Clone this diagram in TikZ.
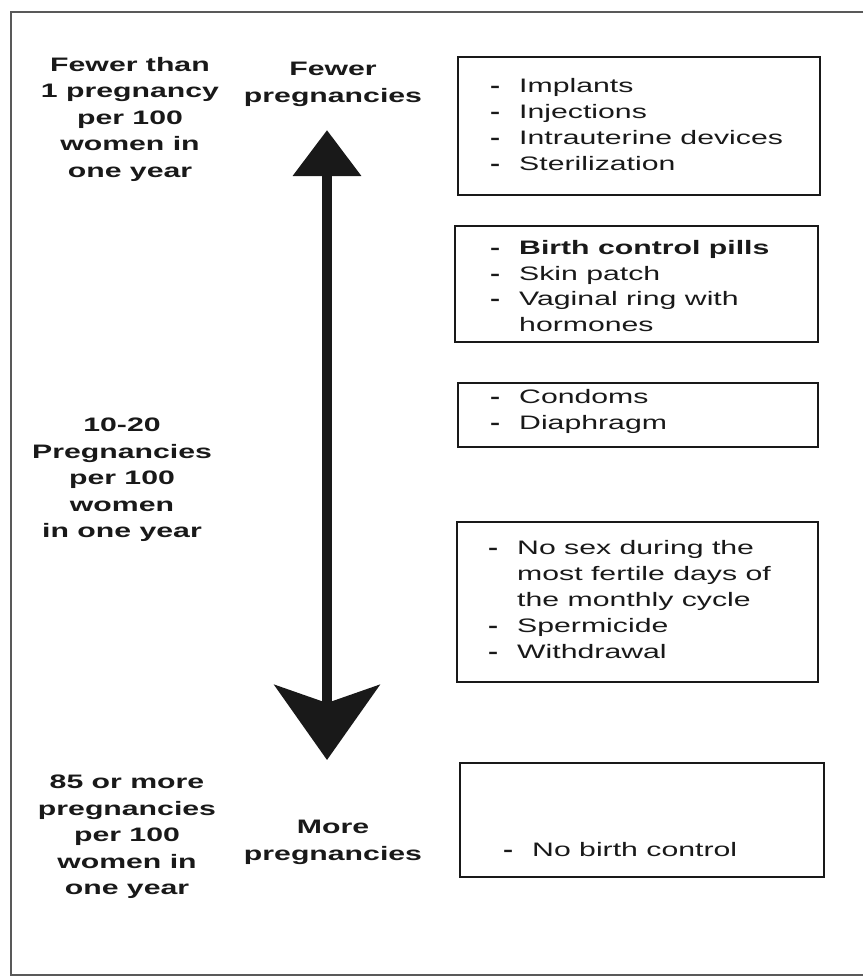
\documentclass[tikz,border=0pt]{standalone}
\usepackage{fontspec}
\newfontfamily\diagfont[FakeStretch=1.55]{Liberation Sans}
\usetikzlibrary{arrows.meta}

\newcommand{\itm}[1]{\makebox[29pt][l]{\bfseries -}#1}
\newcommand{\cnt}[1]{\hspace*{29pt}#1}

\begin{document}
\begin{tikzpicture}[x=1pt,y=-1pt,
                    text=black!90,
                    rate label/.style={align=center,inner sep=0pt,font=\diagfont\bfseries\fontsize{19.5}{26.5}\selectfont},
                    end label/.style={align=center,inner sep=0pt,font=\diagfont\bfseries\fontsize{19.5}{27}\selectfont},
                    method box/.style={draw=black!90,line width=2.8pt,inner sep=0pt},
                    method list/.style={anchor=west,align=left,inner sep=0pt,font=\diagfont\fontsize{19.5}{25.8}\selectfont}]
  \useasboundingbox (0,0) rectangle (863,977);
  % outer frame, open on the right
  \draw[black!65,line width=2.6pt] (863,12) -- (11,12) -- (11,975) -- (863,975);

  % rates on the left
  \node[rate label] (rate1) at (130,119) {Fewer than\\1 pregnancy\\per 100\\women in\\one year};
  \node[rate label] (rate2) at (122,480) {10-20\\Pregnancies\\per 100\\women\\in one year};
  \node[rate label] (rate3) at (127,837) {85 or more\\pregnancies\\per 100\\women in\\one year};

  % the scale
  \node[end label] (fewer) at (333,84) {Fewer\\pregnancies};
  \node[end label] (more) at (333,842) {More\\pregnancies};
  \coordinate (top) at (327,130);
  \coordinate (bottom) at (327,760);
  \draw[black!90,line width=10.5pt,
        {Triangle[length=46pt,width=66pt]}-{Stealth[length=75pt,width=105pt,inset=18pt]}]
    (top) -- (bottom);

  % methods
  \node[method box,minimum width=362pt,minimum height=138pt] (box1) at (639,126) {};
  \node[method box,minimum width=363pt,minimum height=116pt] (box2) at (636.5,284) {};
  \node[method box,minimum width=360pt,minimum height=64pt] (box3) at (638,415) {};
  \node[method box,minimum width=361pt,minimum height=160pt] (box4) at (637.5,602) {};
  \node[method box,minimum width=364pt,minimum height=114pt] (box5) at (642,820) {};

  \node[method list] (list1) at (490,124.5) {\itm{Implants}\\\itm{Injections}\\\itm{Intrauterine devices}\\\itm{Sterilization}};
  \node[method list] (list2) at (490,286) {\itm{\bfseries Birth control pills}\\\itm{Skin patch}\\\itm{Vaginal ring with}\\\cnt{hormones}};
  \node[method list] (list3) at (490,411.5) {\itm{Condoms}\\\itm{Diaphragm}};
  \node[method list] (list4) at (488,599.5) {\itm{No sex during the}\\\cnt{most fertile days of}\\\cnt{the monthly cycle}\\\itm{Spermicide}\\\itm{Withdrawal}};
  \node[method list] (list5) at (503,850) {\itm{No birth control}};
\end{tikzpicture}
\end{document}
